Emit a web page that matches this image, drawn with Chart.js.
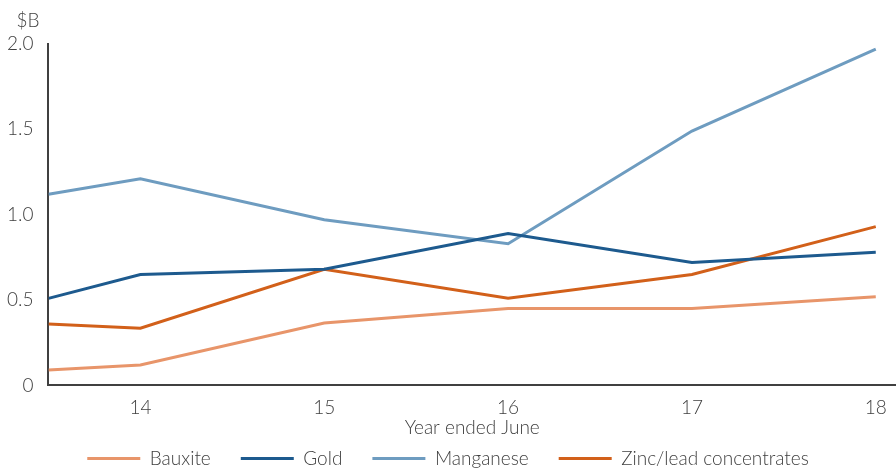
<!DOCTYPE html>
<html>
<head>
<meta charset="utf-8">
<script src="https://cdn.jsdelivr.net/npm/chart.js@4"></script>
<style>
  html, body { margin: 0; padding: 0; background: #fff; }
  #wrap { width: 896px; height: 471px; }
</style>
</head>
<body>
<div id="wrap"><canvas id="chart"></canvas></div>
<script>
// years ended June (first point is where the lines enter the plot, half a year before 14)
const years = [13.5, 14, 15, 16, 17, 18];
const xTickLabels = ['14', '15', '16', '17', '18'];
const yTickLabels = ['0', '0.5', '1.0', '1.5', '2.0'];

// export values, $B
const bauxite   = [0.09, 0.12, 0.365, 0.45, 0.45, 0.52];
const gold      = [0.51, 0.65, 0.68, 0.89, 0.72, 0.78];
const manganese = [1.12, 1.21, 0.97, 0.83, 1.49, 1.97];
const zincLead  = [0.36, 0.335, 0.68, 0.51, 0.65, 0.93];

const textColor = '#404040';
const font = { family: 'Lato', size: 19, weight: '300' };

function series(label, values, color) {
    return {
        label: label,
        data: years.map((x, i) => ({ x: x, y: values[i] })),
        borderColor: color,
        backgroundColor: color,
        borderWidth: 3,
        pointRadius: 0,
        tension: 0
    };
}

// "$B" unit label above the y axis
const unitLabel = {
    id: 'unitLabel',
    afterDraw(chart) {
        const ctx = chart.ctx;
        const area = chart.chartArea;
        ctx.save();
        ctx.fillStyle = textColor;
        ctx.font = '300 19px Lato';
        ctx.textAlign = 'right';
        ctx.textBaseline = 'middle';
        ctx.fillText('$B', area.left - 9, area.top - 23);
        ctx.restore();
    }
};

new Chart(document.getElementById('chart'), {
    type: 'line',
    data: {
        datasets: [
            series('Bauxite', bauxite, '#E8956A'),
            series('Gold', gold, '#1D5A8E'),
            series('Manganese', manganese, '#6E9CC0'),
            series('Zinc/lead concentrates', zincLead, '#D2601A')
        ]
    },
    options: {
        responsive: true,
        maintainAspectRatio: false,
        animation: false,
        layout: { padding: { top: 44, right: 0, left: 0, bottom: -7 } },
        plugins: {
            legend: {
                position: 'bottom',
                labels: {
                    usePointStyle: true,
                    pointStyle: 'line',
                    pointStyleWidth: 53,
                    color: textColor,
                    font: font,
                    padding: 30
                }
            },
            tooltip: { enabled: false }
        },
        scales: {
            x: {
                type: 'linear',
                min: 13.5,
                max: 18.11,
                afterBuildTicks: (scale) => {
                    scale.ticks = xTickLabels.map(v => ({ value: Number(v) }));
                },
                grid: { display: false },
                border: { display: true, color: textColor, width: 2 },
                ticks: {
                    color: textColor,
                    font: font,
                    padding: 3,
                    maxRotation: 0,
                    callback: (v) => String(v)
                },
                title: {
                    display: true,
                    text: 'Year ended June',
                    color: textColor,
                    font: font,
                    padding: { top: -6, bottom: -20 }
                }
            },
            y: {
                min: 0,
                max: 2,
                afterBuildTicks: (scale) => {
                    scale.ticks = yTickLabels.map(v => ({ value: Number(v) }));
                },
                grid: { display: false },
                border: { display: true, color: textColor, width: 2 },
                ticks: {
                    color: textColor,
                    font: font,
                    padding: 7,
                    callback: (v, i) => yTickLabels[i]
                }
            }
        }
    },
    plugins: [unitLabel]
});
</script>
</body>
</html>
